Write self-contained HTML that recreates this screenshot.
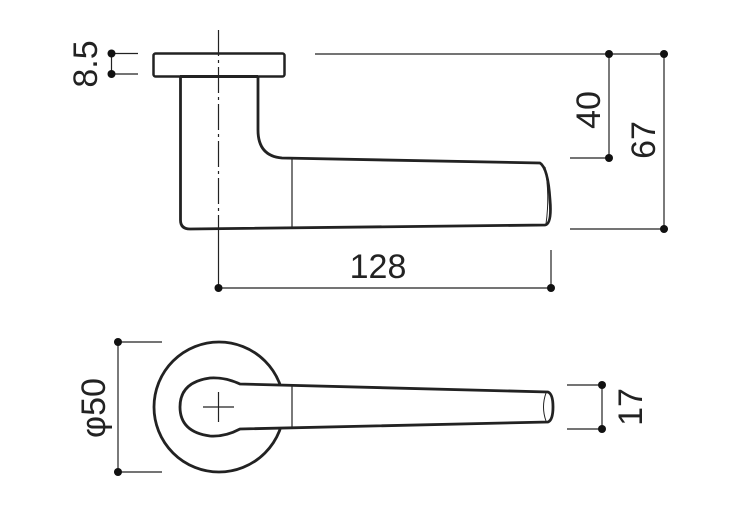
<!DOCTYPE html>
<html><head><style>html,body{margin:0;padding:0;background:#fff}svg{display:block}</style></head>
<body>
<svg width="751" height="524" viewBox="0 0 751 524" xmlns="http://www.w3.org/2000/svg" font-family="Liberation Sans, sans-serif" font-size="34" fill="#222">
<g fill="none" stroke="#222" stroke-linejoin="round">
<!-- top view -->
<rect x="153.5" y="53.5" width="131" height="23" rx="2" stroke-width="2.5"/>
<line x1="180" y1="76.5" x2="258" y2="76.5" stroke-width="3"/>
<path d="M180.5 77 V220 Q180.5 229 190 229 L545 225 Q552 224 550 200 Q548 168 540 163 L282 158 Q258 156 258 130 V77" stroke-width="2.8"/>
<path d="M545 167 Q550 195 546 224" stroke-width="1"/>
<line x1="292" y1="159" x2="292" y2="229" stroke-width="1.2"/>
<line x1="218.5" y1="30" x2="218.5" y2="240" stroke-width="1.2" stroke-dasharray="26,4,3,4"/>
<!-- bottom view -->
<circle cx="219" cy="407" r="65" stroke-width="2.8"/>
<path d="M240 384 Q225 377 210 378 Q180 382 180 407 Q180 432 210 436 Q225 437 240 429 L548 422 Q553 420 553 407 Q553 394 548 392 Z" fill="#fff" stroke-width="2.8"/>
<path d="M546 393 Q541 407 546 421" stroke-width="1"/>
<line x1="292" y1="384" x2="292" y2="429" stroke-width="1.2"/>
<line x1="203" y1="407" x2="234" y2="407" stroke-width="1.2"/>
<line x1="218.5" y1="392" x2="218.5" y2="422" stroke-width="1.2"/>
<!-- dimension lines -->
<g stroke-width="1.2">
<line x1="108" y1="53.5" x2="138" y2="53.5"/><line x1="108" y1="74" x2="138" y2="74"/><line x1="111.5" y1="53" x2="111.5" y2="74"/>
<line x1="315" y1="54" x2="668" y2="54"/>
<line x1="570" y1="158" x2="612" y2="158"/>
<line x1="570" y1="229" x2="668" y2="229"/>
<line x1="609" y1="54" x2="609" y2="158"/>
<line x1="664" y1="54" x2="664" y2="229"/>
<line x1="218.5" y1="240" x2="218.5" y2="290"/>
<line x1="551" y1="250" x2="551" y2="290"/>
<line x1="218" y1="288" x2="551" y2="288"/>
<line x1="114" y1="342" x2="162" y2="342"/><line x1="114" y1="472" x2="162" y2="472"/>
<line x1="118" y1="342" x2="118" y2="472"/>
<line x1="567" y1="385" x2="605" y2="385"/><line x1="567" y1="429" x2="605" y2="429"/>
<line x1="602" y1="385" x2="602" y2="429"/>
</g>
</g>
<g fill="#111">
<circle cx="111.5" cy="53.5" r="4"/><circle cx="111.5" cy="74" r="4"/>
<circle cx="609" cy="54" r="4"/><circle cx="609" cy="158" r="4"/>
<circle cx="664" cy="54" r="4"/><circle cx="664" cy="229" r="4"/>
<circle cx="218.5" cy="288" r="4"/><circle cx="551" cy="288" r="4"/>
<circle cx="118" cy="342" r="4"/><circle cx="118" cy="472" r="4"/>
<circle cx="602" cy="385" r="4"/><circle cx="602" cy="429" r="4"/>
</g>
<text x="378" y="278" text-anchor="middle">128</text>
<text transform="translate(97,64) rotate(-90)" text-anchor="middle">8.5</text>
<text transform="translate(600,110) rotate(-90)" text-anchor="middle">40</text>
<text transform="translate(655,140) rotate(-90)" text-anchor="middle">67</text>
<text transform="translate(105,408) rotate(-90)" text-anchor="middle">φ50</text>
<text transform="translate(642,407) rotate(-90)" text-anchor="middle">17</text>
</svg>
</body></html>
